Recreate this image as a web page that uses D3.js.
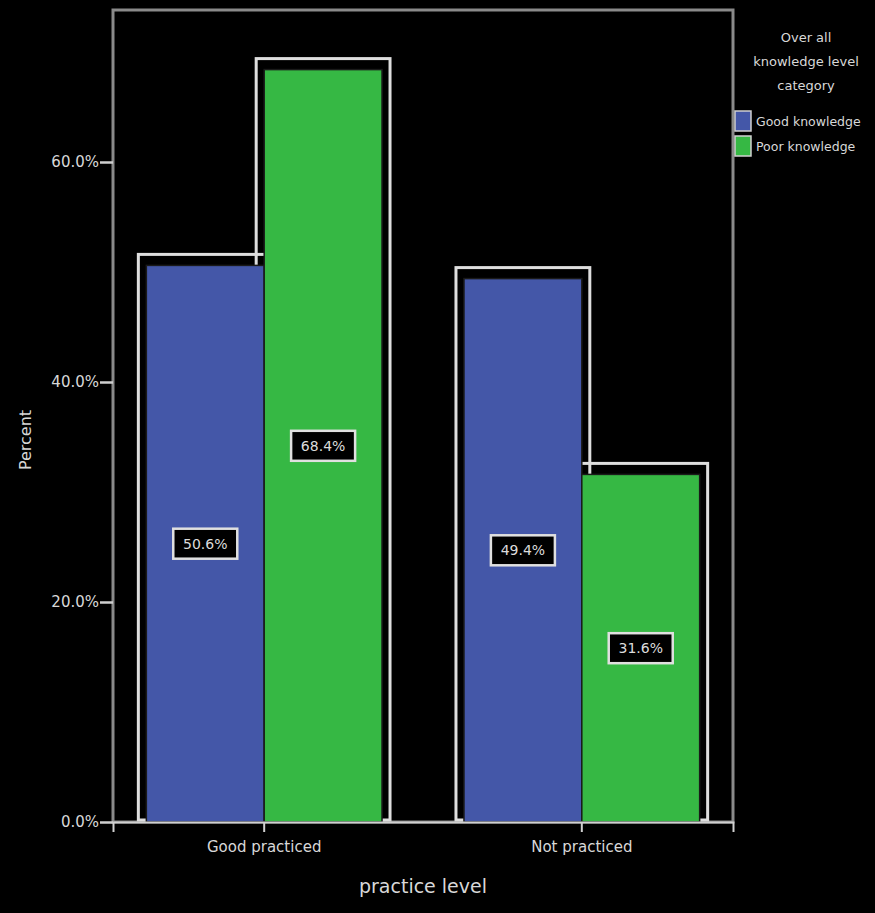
<!DOCTYPE html>
<html><head><meta charset="utf-8">
<script src="https://cdn.jsdelivr.net/npm/d3@7"></script>
<style>body{margin:0;background:#000}svg{display:block}</style>
</head><body>
<svg id="c" width="875" height="913"></svg>
<script>
const categories = ["Good practiced", "Not practiced"];
const seriesNames = ["Good knowledge", "Poor knowledge"];
const blueValues = [50.6, 49.4];
const greenValues = [68.4, 31.6];
const yTicks = [0, 20, 40, 60];
const legendTitle = ["Over all", "knowledge level", "category"];
const colors = ["#4457a8", "#36b844"];

const svg = d3.select("#c");
const W = 875, H = 913;
svg.append("rect").attr("width", W).attr("height", H).attr("fill", "#000");
const m = {l:113, r:733, t:10, b:822};
const x0 = d3.scaleBand().domain(categories).range([m.l, m.r]).paddingInner(0.258).paddingOuter(0.105);
const x1 = d3.scaleBand().domain(seriesNames).range([0, x0.bandwidth()]);
const y = d3.scaleLinear().domain([0, 60]).range([m.b, 162]);

const data = [];
categories.forEach((c,i)=>{
  data.push({cat:c, s:seriesNames[0], v:blueValues[i], k:0});
  data.push({cat:c, s:seriesNames[1], v:greenValues[i], k:1});
});

// frame
svg.append("rect").attr("x", m.l).attr("y", m.t).attr("width", m.r-m.l).attr("height", m.b-m.t)
  .attr("fill","none").attr("stroke","#8a8a8a").attr("stroke-width",3);

// white halos (soft outline around each bar)
const g = svg.append("g");
data.forEach(d=>{
  const bx = x0(d.cat)+x1(d.s), bw = x1.bandwidth(), by = y(d.v);
  g.append("rect").attr("x", bx-8).attr("y", by-11)
    .attr("width", bw+16).attr("height", m.b-(by-11)-2)
    .attr("fill","none").attr("stroke","#dedede").attr("stroke-width",3);
});

// bars
svg.append("g").selectAll("rect").data(data).join("rect")
  .attr("x", d=>x0(d.cat)+x1(d.s)).attr("y", d=>y(d.v))
  .attr("width", x1.bandwidth()).attr("height", d=>m.b-y(d.v))
  .attr("fill", d=>colors[d.k]).attr("stroke","#1a1a1a").attr("stroke-width",1.5);

// labels
const lab = svg.append("g").selectAll("g").data(data).join("g")
  .attr("transform", d=>`translate(${x0(d.cat)+x1(d.s)+x1.bandwidth()/2},${(y(d.v)+m.b)/2})`);
lab.append("rect").attr("x",-32).attr("y",-15).attr("width",64).attr("height",30)
  .attr("fill","#000").attr("stroke","#e0e0e0").attr("stroke-width",2.5);
lab.append("text").attr("text-anchor","middle").attr("dy","0.35em")
  .attr("font-family","DejaVu Sans, sans-serif").attr("font-size",14).attr("fill","#dcdcdc")
  .text(d=>d.v.toFixed(1)+"%");

// y axis
const ya = svg.append("g").attr("transform",`translate(${m.l},0)`)
  .call(d3.axisLeft(y).tickValues(yTicks).tickSize(13).tickFormat(d=>d.toFixed(1)+"%"));
ya.select(".domain").remove();
ya.selectAll("line").attr("stroke","#cfcfcf").attr("stroke-width",2.5);
ya.selectAll("text").attr("fill","#d8d8d8").attr("font-family","DejaVu Sans, sans-serif").attr("font-size",15).attr("x",-14);

// x axis
const xa = svg.append("g").attr("transform",`translate(0,${m.b})`)
  .call(d3.axisBottom(x0).tickSize(10));
xa.select(".domain").attr("stroke","#d0d0d0").attr("stroke-width",2);
xa.selectAll("line").attr("stroke","#d0d0d0").attr("stroke-width",2);
xa.selectAll("text").attr("fill","#d8d8d8").attr("font-family","DejaVu Sans, sans-serif").attr("font-size",15).attr("dy","1.1em");

// axis titles
svg.append("text").attr("x",423).attr("y",893).attr("text-anchor","middle")
  .attr("fill","#d8d8d8").attr("font-family","DejaVu Sans, sans-serif").attr("font-size",19).text("practice level");
svg.append("text").attr("transform","translate(31,440) rotate(-90)").attr("text-anchor","middle")
  .attr("fill","#d8d8d8").attr("font-family","DejaVu Sans, sans-serif").attr("font-size",16).text("Percent");

// legend
const lg = svg.append("g");
legendTitle.forEach((t,i)=>{
  lg.append("text").attr("x",806).attr("y",42+i*24).attr("text-anchor","middle")
    .attr("fill","#d8d8d8").attr("font-family","DejaVu Sans, sans-serif").attr("font-size",13).text(t);
});
seriesNames.forEach((s,i)=>{
  lg.append("rect").attr("x",735).attr("y",111+i*25).attr("width",16).attr("height",20)
    .attr("fill",colors[i]).attr("stroke","#d0d0d0").attr("stroke-width",1.5);
  lg.append("text").attr("x",756).attr("y",126+i*25).attr("fill","#d8d8d8")
    .attr("font-family","DejaVu Sans, sans-serif").attr("font-size",12.5).text(s);
});
</script>
</body></html>
